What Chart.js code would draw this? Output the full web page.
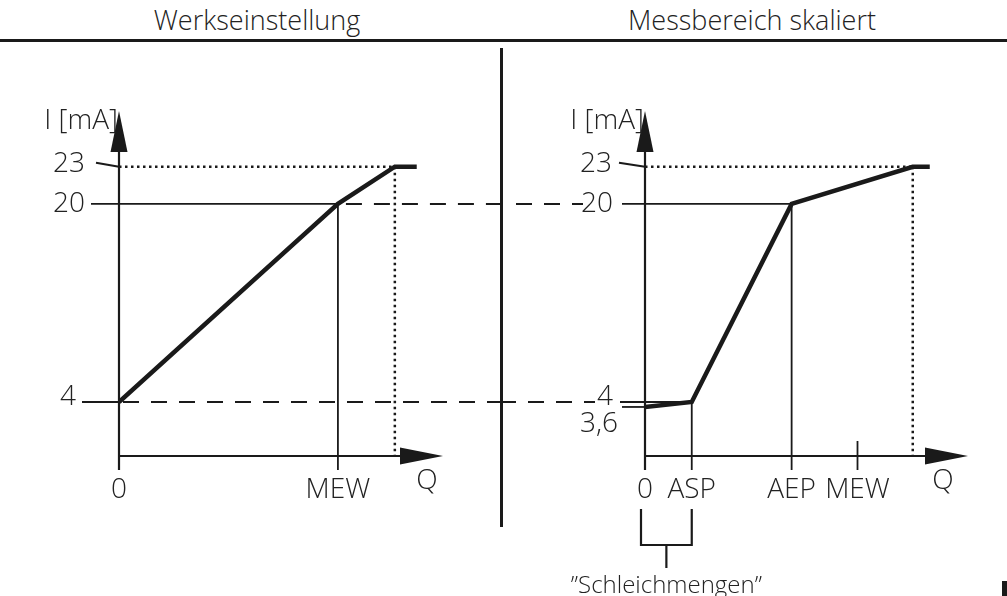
<!DOCTYPE html>
<html>
<head>
<meta charset="utf-8">
<script src="https://cdn.jsdelivr.net/npm/chart.js@4.4.1/dist/chart.umd.min.js"></script>
<style>
    body { margin: 0; background: #fff; }
    #wrap { position: relative; width: 1007px; height: 596px; overflow: hidden; font-family: 'Open Sans', 'Liberation Sans', sans-serif; font-weight: 300; color: #222; }
    .title { position: absolute; top: 1px; width: 400px; text-align: center; font-size: 27px; }
    #rule { position: absolute; left: 0; top: 39px; width: 1007px; height: 3px; background: #1a1a1a; }
    #divider { position: absolute; left: 500px; top: 48px; width: 3px; height: 479px; background: #1a1a1a; }
    #left { position: absolute; left: 0; top: 0; }
    #right { position: absolute; left: 500px; top: 0; }
    #mark { position: absolute; left: 1002px; top: 581px; width: 5px; height: 15px; background: #1a1a1a; }
</style>
</head>
<body>
<div id="wrap">
    <div class="title" style="left:57px">Werkseinstellung</div>
    <div class="title" style="left:552px">Messbereich skaliert</div>
    <div id="rule"></div>
    <div id="divider"></div>
    <canvas id="left" width="500" height="596"></canvas>
    <canvas id="right" width="507" height="596"></canvas>
    <div id="mark"></div>
</div>
<script>
// Werkseinstellung (factory setting)
const leftQ = [0, 100, 126, 136];
const leftI = [4, 20, 23, 23];
const leftYTicks = [4, 20, 23];
const leftYLabels = ['4', '20', '23'];
const leftXTicks = [0, 100];
const leftXLabels = ['0', 'MEW'];

// Messbereich skaliert (scaled range)
const rightQ = [0, 22, 69, 126, 134];
const rightI = [3.6, 4, 20, 23, 23];
const rightYTicks = [3.6, 4, 20, 23];
const rightYLabels = ['3,6', '4', '20', '23'];
const rightXTicks = [0, 22, 69, 100];
const rightXLabels = ['0', 'ASP', 'AEP', 'MEW'];

const qLimit = 126;          // Q where I reaches 23 mA
const INK = '#1a1a1a';
const FONT = "300 28px 'Open Sans', 'Liberation Sans', sans-serif";
const DASH = [16, 12];
const DOT = [2.5, 3.5];

function line(ctx, x1, y1, x2, y2, w, dash) {
    ctx.save();
    ctx.strokeStyle = INK;
    ctx.lineWidth = w;
    ctx.setLineDash(dash || []);
    ctx.beginPath();
    ctx.moveTo(x1, y1);
    ctx.lineTo(x2, y2);
    ctx.stroke();
    ctx.restore();
}

function tri(ctx, pts) {
    ctx.save();
    ctx.fillStyle = INK;
    ctx.beginPath();
    ctx.moveTo(pts[0], pts[1]);
    ctx.lineTo(pts[2], pts[3]);
    ctx.lineTo(pts[4], pts[5]);
    ctx.closePath();
    ctx.fill();
    ctx.restore();
}

function text(ctx, str, x, y, align, base, font) {
    ctx.save();
    ctx.fillStyle = '#222';
    ctx.font = font || FONT;
    ctx.textAlign = align;
    ctx.textBaseline = base;
    ctx.fillText(str, x, y);
    ctx.restore();
}

// axes with arrow heads, shared by both panels
function drawAxes(chart, qRight) {
    const ctx = chart.ctx;
    const a = chart.chartArea;
    const x0 = chart.scales.x.getPixelForValue(0);
    line(ctx, x0, a.top + 38, x0, a.bottom + 14, 2.2);
    tri(ctx, [x0, a.top, x0 - 8.5, a.top + 41, x0 + 8.5, a.top + 41]);
    line(ctx, x0, a.bottom, a.right - 40, a.bottom, 2.2);
    tri(ctx, [a.right, a.bottom, a.right - 43, a.bottom - 8.5, a.right - 43, a.bottom + 8.5]);
    text(ctx, 'I [mA]', x0 - 1, a.top + 10, 'right', 'middle');
    text(ctx, 'Q', a.right - qRight, a.bottom + 25, 'center', 'middle');
}

const leftDeco = {
    id: 'leftDeco',
    beforeDatasetsDraw(chart) {
        const ctx = chart.ctx;
        const xs = chart.scales.x, ys = chart.scales.y;
        const a = chart.chartArea;
        const x0 = xs.getPixelForValue(0);
        drawAxes(chart, 16);

        const y23 = ys.getPixelForValue(leftYTicks[2]);
        const xl = xs.getPixelForValue(qLimit);
        line(ctx, x0 - 23, y23 - 4, x0, y23, 2.2);
        line(ctx, x0, y23, xl, y23, 2.5, DOT);
        line(ctx, xl, y23, xl, a.bottom, 2.5, DOT);

        const y20 = ys.getPixelForValue(leftYTicks[1]);
        const xm = xs.getPixelForValue(leftXTicks[1]);
        line(ctx, x0 - 28, y20, xm, y20, 1.8);
        line(ctx, xm, y20, xm, a.bottom + 14, 1.8);
        line(ctx, xm + 8, y20, chart.width, y20, 2, DASH);

        const y4 = ys.getPixelForValue(leftYTicks[0]);
        line(ctx, x0 - 37, y4, x0, y4, 1.8);
        line(ctx, x0 + 4, y4, chart.width, y4, 2, DASH);

        text(ctx, leftYLabels[2], x0 - 34, y23 - 3, 'right', 'middle');
        text(ctx, leftYLabels[1], x0 - 34, y20, 'right', 'middle');
        text(ctx, leftYLabels[0], x0 - 43, y4 - 5, 'right', 'middle');
        leftXTicks.forEach((q, i) => {
            text(ctx, leftXLabels[i], xs.getPixelForValue(q), a.bottom + 34, 'center', 'middle');
        });
    }
};

const rightDeco = {
    id: 'rightDeco',
    beforeDatasetsDraw(chart) {
        const ctx = chart.ctx;
        const xs = chart.scales.x, ys = chart.scales.y;
        const a = chart.chartArea;
        const x0 = xs.getPixelForValue(0);
        drawAxes(chart, 25);

        const y23 = ys.getPixelForValue(rightYTicks[3]);
        const xl = xs.getPixelForValue(qLimit);
        line(ctx, x0 - 26, y23 - 4, x0, y23, 2.2);
        line(ctx, x0, y23, xl, y23, 2.5, DOT);
        line(ctx, xl, y23, xl, a.bottom, 2.5, DOT);

        const y20 = ys.getPixelForValue(rightYTicks[2]);
        const xaep = xs.getPixelForValue(rightXTicks[2]);
        line(ctx, x0 - 23, y20, xaep, y20, 1.8);
        line(ctx, xaep, y20, xaep, a.bottom + 14, 1.8);
        line(ctx, 16, y20, x0 - 62, y20, 2, DASH);

        const y4 = ys.getPixelForValue(rightYTicks[1]);
        const xasp = xs.getPixelForValue(rightXTicks[1]);
        line(ctx, x0 - 25, y4, xasp, y4, 1.8);
        line(ctx, xasp, y4, xasp, a.bottom + 14, 1.8);
        line(ctx, 0, y4, x0 - 50, y4, 2, DASH);

        const y36 = ys.getPixelForValue(rightYTicks[0]);
        line(ctx, x0 - 23, y36, x0, y36, 1.8);

        const xmew = xs.getPixelForValue(rightXTicks[3]);
        line(ctx, xmew, a.bottom - 15, xmew, a.bottom + 14, 1.8);

        text(ctx, rightYLabels[3], x0 - 33, y23 - 3, 'right', 'middle');
        text(ctx, rightYLabels[2], x0 - 32, y20, 'right', 'middle');
        text(ctx, rightYLabels[1], x0 - 32, y4 - 5, 'right', 'middle');
        text(ctx, rightYLabels[0], x0 - 27, y36 + 17, 'right', 'middle');
        rightXTicks.forEach((q, i) => {
            text(ctx, rightXLabels[i], xs.getPixelForValue(q), a.bottom + 34, 'center', 'middle');
        });

        // "Schleichmengen" bracket between 0 and ASP
        const b1 = a.bottom + 53, b2 = a.bottom + 89;
        const xa = x0 - 4, xb = xasp;
        ctx.save();
        ctx.strokeStyle = INK;
        ctx.lineWidth = 2.2;
        ctx.beginPath();
        ctx.moveTo(xa, b1);
        ctx.lineTo(xa, b2);
        ctx.lineTo(xb, b2);
        ctx.lineTo(xb, b1);
        ctx.stroke();
        ctx.restore();
        const xc = (xa + xb) / 2;
        line(ctx, xc, b2, xc, a.bottom + 112, 2.2);
        text(ctx, '\u201DSchleichmengen\u201D', xc, a.bottom + 130, 'center', 'middle',
            "300 24px 'Open Sans', 'Liberation Sans', sans-serif");
    }
};

function makePanel(id, q, amps, xMax, pad, deco) {
    return new Chart(document.getElementById(id), {
        type: 'line',
        data: {
            datasets: [{
                data: q.map((v, i) => ({ x: v, y: amps[i] })),
                borderColor: INK,
                borderWidth: 4.5,
                borderJoinStyle: 'miter',
                pointRadius: 0,
                tension: 0
            }]
        },
        options: {
            responsive: false,
            animation: false,
            devicePixelRatio: 1,
            layout: { padding: pad },
            scales: {
                x: { type: 'linear', min: 0, max: xMax, display: false },
                y: { type: 'linear', min: -0.36, max: 27.5, display: false }
            },
            plugins: {
                legend: { display: false },
                tooltip: { enabled: false }
            }
        },
        plugins: [deco]
    });
}

makePanel('left', leftQ, leftI, 148, { left: 119, right: 57, top: 111, bottom: 140 }, leftDeco);
makePanel('right', rightQ, rightI, 152, { left: 145, right: 39, top: 111, bottom: 140 }, rightDeco);
</script>
</body>
</html>
